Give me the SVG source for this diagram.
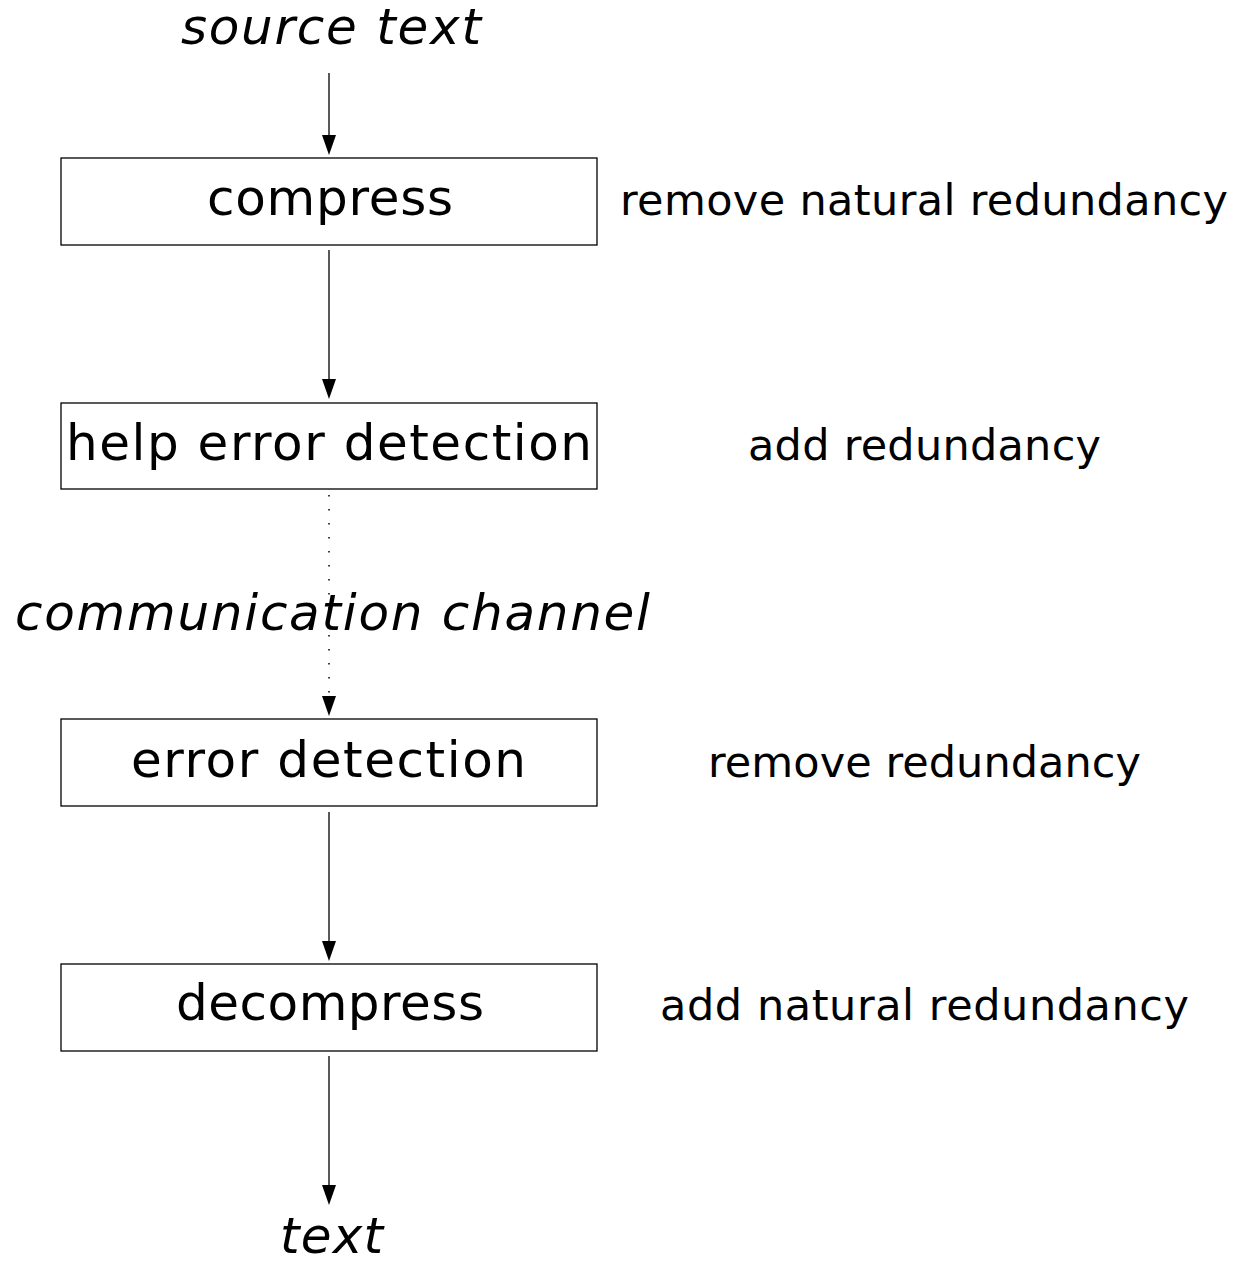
<svg xmlns="http://www.w3.org/2000/svg" width="1236" height="1267" viewBox="0 0 1236 1267">
<style>
text{font-family:"DejaVu Sans","Liberation Sans",sans-serif;fill:#000}
.big{font-size:50px}
.side{font-size:43px}
.it{font-style:italic}
.box{fill:#fff;stroke:#000;stroke-width:1.3}
.ln{stroke:#000;stroke-width:1.3;fill:none}
.dot{stroke:#000;stroke-width:1.5;fill:none;stroke-dasharray:1.5 12.5}
.head{fill:#000}
</style>
<rect width="1236" height="1267" fill="#fff"/>
<g id="connectors">
<line class="ln" x1="329" y1="73" x2="329" y2="135"/><path class="head" d="M322,135 L336,135 L329,155 Z"/>
<line class="ln" x1="329" y1="250" x2="329" y2="379"/><path class="head" d="M322,379 L336,379 L329,399 Z"/>
<line class="dot" x1="329" y1="495" x2="329" y2="696"/><path class="head" d="M322,696 L336,696 L329,716 Z"/>
<line class="ln" x1="329" y1="812" x2="329" y2="941"/><path class="head" d="M322,941 L336,941 L329,961 Z"/>
<line class="ln" x1="329" y1="1056" x2="329" y2="1185"/><path class="head" d="M322,1185 L336,1185 L329,1205 Z"/>
</g>
<g id="source"><text class="big it" x="181" y="44" textLength="300" lengthAdjust="spacing">source text</text></g>
<g id="compress">
<rect class="box" x="61" y="158" width="536" height="87"/>
<text class="big" x="207" y="215" textLength="246" lengthAdjust="spacing">compress</text>
</g>
<g id="lbl-compress"><text class="side" x="620" y="215" textLength="608" lengthAdjust="spacing">remove natural redundancy</text></g>
<g id="help">
<rect class="box" x="61" y="403" width="536" height="86"/>
<text class="big" x="66" y="460" textLength="526" lengthAdjust="spacing">help error detection</text>
</g>
<g id="lbl-help"><text class="side" x="748" y="460" textLength="353" lengthAdjust="spacing">add redundancy</text></g>
<g id="channel"><text class="big it" x="15" y="630" textLength="635" lengthAdjust="spacing">communication channel</text></g>
<g id="errdet">
<rect class="box" x="61" y="719" width="536" height="87"/>
<text class="big" x="131" y="777" textLength="395" lengthAdjust="spacing">error detection</text>
</g>
<g id="lbl-errdet"><text class="side" x="708" y="777" textLength="433" lengthAdjust="spacing">remove redundancy</text></g>
<g id="decompress">
<rect class="box" x="61" y="964" width="536" height="87"/>
<text class="big" x="176" y="1020" textLength="308" lengthAdjust="spacing">decompress</text>
</g>
<g id="lbl-decompress"><text class="side" x="660" y="1020" textLength="529" lengthAdjust="spacing">add natural redundancy</text></g>
<g id="out"><text class="big it" x="280" y="1253" textLength="103" lengthAdjust="spacing">text</text></g>
</svg>
